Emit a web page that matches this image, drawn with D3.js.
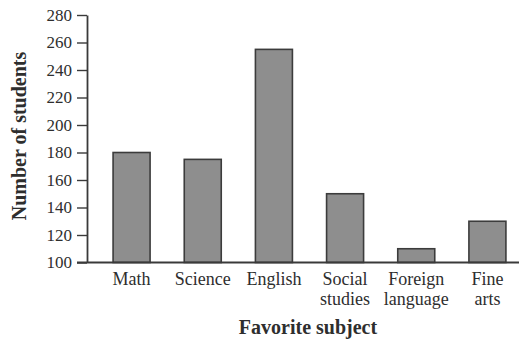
<!DOCTYPE html>
<html>
<head>
<meta charset="utf-8">
<script src="https://cdn.jsdelivr.net/npm/d3@7"></script>
<style>
  html, body { margin: 0; padding: 0; background: #fff; }
  svg { display: block; }
</style>
</head>
<body>
<svg id="chart" width="519" height="341"></svg>
<script>
// Favorite subject survey
const subjects = [["Math"], ["Science"], ["English"], ["Social", "studies"], ["Foreign", "language"], ["Fine", "arts"]];
const students = [180, 175, 255, 150, 110, 130];
const yTicks = [100, 120, 140, 160, 180, 200, 220, 240, 260, 280];

const serif = "Liberation Serif";
const svg = d3.select("#chart");
const axisColor = "#3a3a3a";
const textColor = "#2e2e2e";

const x = d3.scaleBand()
  .domain(subjects.map((d, i) => i))
  .range([96, 523])
  .paddingInner(0.48)
  .paddingOuter(0.24);

const y = d3.scaleLinear().domain([100, 280]).range([262.5, 15]);

// bars
svg.append("g").selectAll("rect")
  .data(students)
  .join("rect")
  .attr("x", (d, i) => x(i))
  .attr("y", d => y(d))
  .attr("width", x.bandwidth())
  .attr("height", d => y(100) - y(d))
  .attr("fill", "#8e8e8e")
  .attr("stroke", "#3c3c3c")
  .attr("stroke-width", 1.6);

// y axis
const yAxis = svg.append("g")
  .attr("transform", "translate(87,0)")
  .call(d3.axisLeft(y).tickValues(yTicks).tickSize(10).tickPadding(5).tickSizeOuter(0));
yAxis.attr("font-family", serif).attr("font-size", 17);
yAxis.select(".domain").attr("stroke", axisColor).attr("stroke-width", 1.8);
yAxis.selectAll(".tick line").attr("stroke", axisColor).attr("stroke-width", 1.4);
yAxis.selectAll(".tick text")
  .style("font-family", serif)
  .style("font-size", "17px")
  .attr("fill", textColor);

// x axis baseline
svg.append("line")
  .attr("x1", 77).attr("x2", 519)
  .attr("y1", y(100)).attr("y2", y(100))
  .attr("stroke", axisColor).attr("stroke-width", 1.8);

// category labels
const labels = svg.append("g").attr("text-anchor", "middle");
subjects.forEach((lines, i) => {
  const cx = x(i) + x.bandwidth() / 2;
  const t = labels.append("text")
    .attr("x", cx).attr("y", 284.5)
    .style("font-family", serif)
    .style("font-size", "18px")
    .attr("fill", textColor);
  lines.forEach((ln, j) => {
    t.append("tspan").attr("x", cx).attr("dy", j === 0 ? 0 : 20.5).text(ln);
  });
});

// axis titles
svg.append("text")
  .attr("x", 308).attr("y", 334)
  .attr("text-anchor", "middle")
  .style("font-family", serif)
  .style("font-weight", "bold")
  .style("font-size", "20px")
  .attr("fill", textColor)
  .text("Favorite subject");

svg.append("text")
  .attr("transform", "translate(26,136) rotate(-90)")
  .attr("text-anchor", "middle")
  .style("font-family", serif)
  .style("font-weight", "bold")
  .style("font-size", "20px")
  .attr("fill", textColor)
  .text("Number of students");
</script>
</body>
</html>
